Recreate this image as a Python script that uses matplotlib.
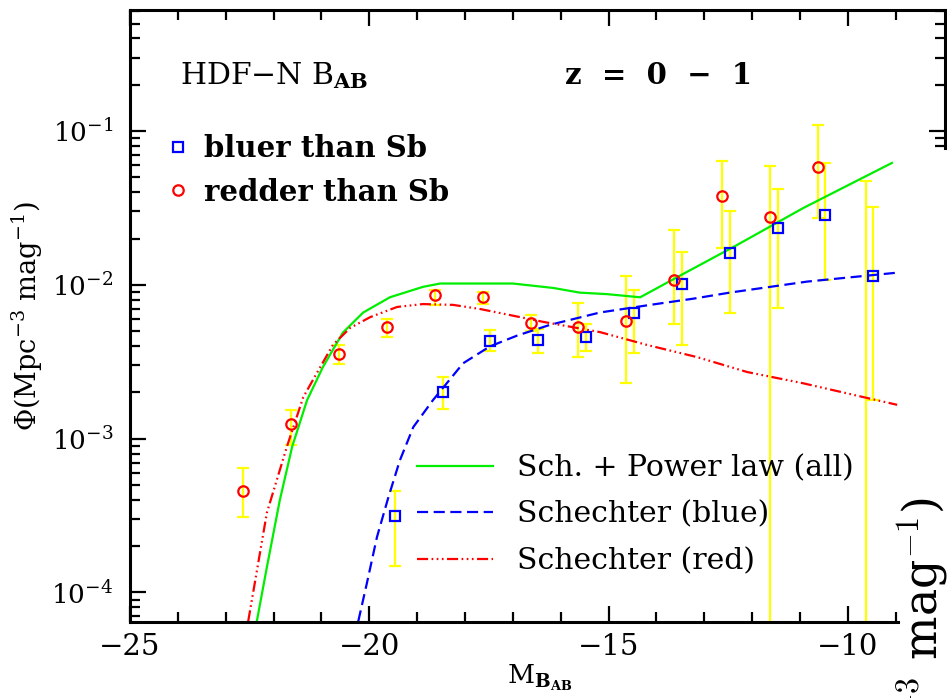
import numpy as np
import matplotlib
matplotlib.use('Agg')
import matplotlib.pyplot as plt
from matplotlib.lines import Line2D
from matplotlib.ticker import FixedLocator, NullFormatter

plt.rcParams['font.family'] = 'DejaVu Serif'
plt.rcParams['mathtext.fontset'] = 'dejavuserif'
plt.rcParams['lines.scale_dashes'] = False

# ---- data ----
# galaxies redder than Sb
red_mag = [-22.63, -21.63, -20.63, -19.63, -18.63, -17.63, -16.63,
           -15.63, -14.63, -13.63, -12.63, -11.63, -10.63, -9.63]
red_phi = [4.6e-4, 1.24e-3, 3.55e-3, 5.3e-3, 8.6e-3, 8.3e-3, 5.65e-3,
           5.3e-3, 5.8e-3, 1.08e-2, 3.78e-2, 2.75e-2, 5.8e-2, 0.0]
red_hi = [6.4e-4, 1.53e-3, 4.07e-3, 6.0e-3, 9.2e-3, 9.0e-3, 6.4e-3,
          7.6e-3, 1.14e-2, 2.27e-2, 6.4e-2, 5.9e-2, 1.09e-1, 4.7e-2]
red_lo = [3.1e-4, 9.1e-4, 3.05e-3, 4.57e-3, 7.4e-3, 7.5e-3, 5.0e-3,
          3.4e-3, 2.3e-3, 5.6e-3, 1.74e-2, 0.0, 2.7e-2, 0.0]

# galaxies bluer than Sb
blue_mag = [-19.47, -18.47, -17.47, -16.47, -15.47, -14.47, -13.47,
            -12.47, -11.47, -10.47, -9.47]
blue_phi = [3.14e-4, 2.0e-3, 4.3e-3, 4.37e-3, 4.57e-3, 6.56e-3, 1.01e-2,
            1.62e-2, 2.34e-2, 2.85e-2, 1.14e-2]
blue_hi = [4.6e-4, 2.5e-3, 5.1e-3, 5.2e-3, 5.6e-3, 9.3e-3, 1.63e-2,
           3.0e-2, 4.2e-2, 6.2e-2, 3.2e-2]
blue_lo = [1.48e-4, 1.55e-3, 3.7e-3, 3.6e-3, 3.7e-3, 3.6e-3, 4.07e-3,
           6.6e-3, 7.1e-3, 1.07e-2, 1.78e-3]

# fitted curves (traced)
all_mag = [-22.35, -22.14, -21.87, -21.61, -21.30, -20.97, -20.55, -20.13,
           -19.57, -18.88, -18.52, -17.0, -16.16, -15.6, -15.03, -14.34,
           -13.57, -12.31, -10.93, -9.08]
all_phi = [6.5e-5, 1.46e-4, 3.98e-4, 8.9e-4, 1.78e-3, 2.92e-3, 4.9e-3, 6.6e-3,
           8.3e-3, 9.7e-3, 1.02e-2, 1.02e-2, 9.55e-3, 8.9e-3, 8.7e-3, 8.3e-3,
           1.12e-2, 1.82e-2, 3.16e-2, 6.2e-2]

schb_mag = [-20.23, -20.05, -19.84, -19.60, -19.36, -19.08, -18.67, -18.04,
            -17.48, -16.91, -16.22, -15.18, -14.13, -13.23, -12.46, -10.85,
            -8.97]
schb_phi = [6.5e-5, 1.15e-4, 2.29e-4, 4.17e-4, 7.24e-4, 1.19e-3, 1.78e-3,
            3.09e-3, 3.98e-3, 4.68e-3, 5.5e-3, 6.61e-3, 7.41e-3, 8.13e-3,
            8.91e-3, 1.05e-2, 1.2e-2]

schr_mag = [-22.53, -22.14, -21.72, -21.38, -21.09, -20.76, -20.40, -19.98,
            -19.42, -18.88, -18.25, -17.69, -17.27, -16.37, -15.18, -14.20,
            -13.15, -12.10, -10.93, -9.60, -8.97]
schr_phi = [6.5e-5, 3.3e-4, 8.9e-4, 1.86e-3, 2.69e-3, 4.07e-3, 5.25e-3,
            6.17e-3, 7.18e-3, 7.5e-3, 7.41e-3, 6.97e-3, 6.56e-3, 5.75e-3,
            4.93e-3, 4.07e-3, 3.39e-3, 2.71e-3, 2.29e-3, 1.84e-3, 1.66e-3]

YELLOW = '#ffff00'
RED = '#ff0000'
BLUE = '#0000ff'
GREEN = '#00ee00'

fig = plt.figure(figsize=(9.47, 6.98), dpi=100)
ax = fig.add_axes([130 / 947, 1 - 622 / 698, 815 / 947, 612 / 698])
ax.set_yscale('log')
ax.set_xlim(-25, -7.97)
ax.set_ylim(6.43e-5, 0.612)

# error bars
rp = np.array(red_phi)
bp = np.array(blue_phi)
ax.errorbar(red_mag, rp, yerr=[rp - np.array(red_lo), np.array(red_hi) - rp],
            fmt='none', ecolor=YELLOW, elinewidth=1.6, capsize=4.5,
            capthick=1.6, zorder=1)
ax.errorbar(blue_mag, bp, yerr=[bp - np.array(blue_lo), np.array(blue_hi) - bp],
            fmt='none', ecolor=YELLOW, elinewidth=1.6, capsize=4.5,
            capthick=1.6, zorder=1)

# curves
l_all, = ax.plot(all_mag, all_phi, color=GREEN, lw=1.6, zorder=2)
l_blue, = ax.plot(schb_mag, schb_phi, color=BLUE, lw=1.6, dashes=[8, 4], zorder=2)
l_red, = ax.plot(schr_mag, schr_phi, color=RED, lw=1.6,
                 dashes=[8, 2.5, 1.2, 2.5, 1.2, 2.5, 1.2, 2.5], zorder=2)

# points
ax.plot(blue_mag, blue_phi, ls='none', marker='s', ms=7, mfc='none',
        mec=BLUE, mew=1.6, zorder=3)
ax.plot(red_mag, red_phi, ls='none', marker='o', ms=7.5, mfc='none',
        mec=RED, mew=1.6, zorder=3)

# axes style
for s in ax.spines.values():
    s.set_linewidth(2.2)
ax.spines['bottom'].set_bounds(-25, -8.95)
ax.spines['right'].set_bounds(0.078, 0.612)
ax.tick_params(which='both', direction='in', top=True, right=False, width=1.6)
ax.tick_params(which='major', length=11.5)
ax.tick_params(which='minor', length=7)
ax.tick_params(axis='x', pad=8, labelsize=21)
ax.tick_params(axis='y', pad=12, labelsize=19)
ax.set_xticks([-25, -20, -15, -10])
ax.set_xticklabels(['\u221225', '\u221220', '\u221215', '\u221210'])
ax.xaxis.set_minor_locator(FixedLocator([m for m in range(-24, -8) if m % 5 != 0]))

# right axis ticks only on the visible part of the frame
ax2 = ax.twinx()
ax2.set_yscale('log')
ax2.set_ylim(ax.get_ylim())
for s in ax2.spines.values():
    s.set_visible(False)
ax2.yaxis.set_major_locator(FixedLocator([0.1]))
ax2.yaxis.set_minor_locator(FixedLocator([0.08, 0.09, 0.2, 0.3, 0.4, 0.5, 0.6]))
ax2.yaxis.set_major_formatter(NullFormatter())
ax2.yaxis.set_minor_formatter(NullFormatter())
ax2.tick_params(which='both', direction='in', width=1.6)
ax2.tick_params(which='major', length=11.5)
ax2.tick_params(which='minor', length=7)

ax.set_ylabel('\u03a6(Mpc$^{-3}$ mag$^{-1}$)', fontsize=19.5)
ax.yaxis.set_label_coords(-0.104, 0.5)
ax.set_xlabel(r'M$_{\mathbf{B_{AB}}}$', fontsize=19, va='top')
ax.xaxis.set_label_coords(0.503, -0.066)

# annotations
ax.text(0.061, 0.893, r'HDF$-$N B$_{\mathbf{AB}}$', transform=ax.transAxes,
        fontsize=21.5, va='center')
ax.text(0.534, 0.893, 'z  =  0  \u2212  1', transform=ax.transAxes,
        fontsize=21, fontweight='bold', va='center')

# marker key
h_b = Line2D([], [], ls='none', marker='s', ms=7, mfc='none', mec=BLUE, mew=1.6)
h_r = Line2D([], [], ls='none', marker='o', ms=7.5, mfc='none', mec=RED, mew=1.6)
leg1 = ax.legend([h_b, h_r], ['bluer than Sb', 'redder than Sb'],
                 loc='upper left', bbox_to_anchor=(166 / 947, 1 - 134 / 698),
                 bbox_transform=fig.transFigure, frameon=False,
                 prop={'weight': 'bold', 'size': 21}, handlelength=0.8,
                 handletextpad=0.5, labelspacing=0.5, borderpad=0,
                 borderaxespad=0, numpoints=1)
ax.add_artist(leg1)

# curve key
ax.legend([l_all, l_blue, l_red],
          ['Sch. + Power law (all)', 'Schechter (blue)', 'Schechter (red)'],
          loc='upper left', bbox_to_anchor=(417 / 947, 1 - 454 / 698),
          bbox_transform=fig.transFigure, frameon=False, fontsize=21.5,
          handlelength=2.55, handletextpad=0.8, labelspacing=0.63,
          borderpad=0, borderaxespad=0)

# part of an overlapping panel at the right edge
fig.text(0.975, 1 - 497 / 698, '$^{-3}$ mag$^{-1}$)', rotation=90,
         ha='center', va='top', fontsize=33, math_fontfamily='cm',
         family='DejaVu Serif')

fig.savefig('out.png', dpi=100)
